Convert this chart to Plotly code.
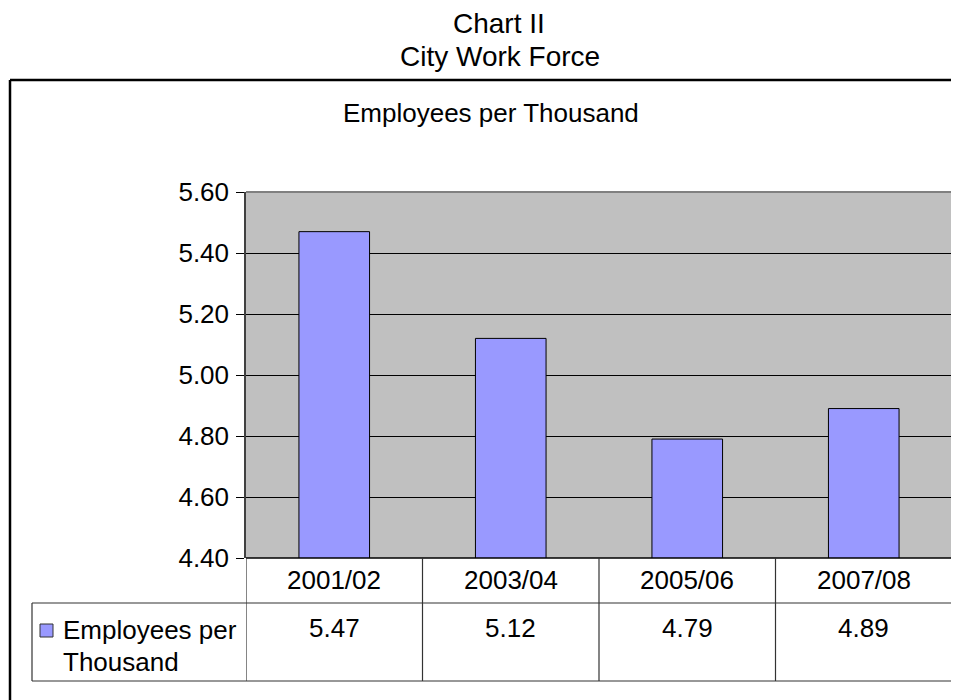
import plotly.graph_objects as go

categories = ["2001/02", "2003/04", "2005/06", "2007/08"]
values = [5.47, 5.12, 4.79, 4.89]
series_name = "Employees per Thousand"
y_ticks = [4.40, 4.60, 4.80, 5.00, 5.20, 5.40, 5.60]

OFF = 8  # page body margin
W, H = 959 - OFF, 700 - OFF
PL, PR, PT, PB = 246, 952, 192, 558  # plot area in page pixels
L, T = PL - OFF, PT - OFF
R, B = W - (PR - OFF), H - (PB - OFF)
FONT = "Liberation Sans, Arial, sans-serif"
BAR = "#9999FF"

def px_x(px):
    return (px - PL) / (PR - PL)

def px_y(py):
    return (PB - py) / (PB - PT)

fig = go.Figure()
fig.add_trace(go.Bar(
    x=categories, y=values, name=series_name,
    marker=dict(color=BAR, line=dict(color="black", width=1)),
    showlegend=False, hoverinfo="x+y",
))

shapes = []
shapes.append(dict(type="line", xref="paper", yref="paper", x0=0, x1=1, y0=1, y1=1,
                   line=dict(color="#808080", width=2)))
shapes.append(dict(type="line", xref="paper", yref="paper", x0=1, x1=1, y0=0, y1=1,
                   line=dict(color="#808080", width=2)))
shapes.append(dict(type="line", xref="paper", yref="paper", x0=px_x(10), x1=px_x(10),
                   y0=px_y(80), y1=px_y(720), line=dict(color="black", width=2.5)))
shapes.append(dict(type="line", xref="paper", yref="paper", x0=px_x(10), x1=px_x(980),
                   y0=px_y(80), y1=px_y(80), line=dict(color="black", width=2.5)))

row1_bot = px_y(603)
row2_bot = px_y(681)
leg_left = px_x(32)
tcol = "#333333"
shapes.append(dict(type="line", xref="paper", yref="paper", x0=0, x1=1, y0=0, y1=0,
                   line=dict(color="black", width=1.5)))
shapes.append(dict(type="line", xref="paper", yref="paper", x0=leg_left, x1=1,
                   y0=row1_bot, y1=row1_bot, line=dict(color=tcol, width=1.2)))
shapes.append(dict(type="line", xref="paper", yref="paper", x0=leg_left, x1=1,
                   y0=row2_bot, y1=row2_bot, line=dict(color=tcol, width=1.2)))
shapes.append(dict(type="line", xref="paper", yref="paper", x0=leg_left, x1=leg_left,
                   y0=row1_bot, y1=row2_bot, line=dict(color=tcol, width=1.2)))
for i in range(len(categories) + 1):
    shapes.append(dict(type="line", xref="x", yref="paper", x0=i - 0.5, x1=i - 0.5,
                       y0=0, y1=row2_bot, line=dict(color=tcol, width=1.2)))
shapes.append(dict(type="rect", xref="paper", yref="paper",
                   x0=px_x(40), x1=px_x(53), y0=px_y(637), y1=px_y(624),
                   fillcolor=BAR, line=dict(color="#333333", width=1)))

annotations = []
def txt(text, x, y, xref="paper", size=26, xanchor="center"):
    annotations.append(dict(text=text, x=x, y=y, xref=xref, yref="paper",
                            showarrow=False, xanchor=xanchor, yanchor="middle",
                            font=dict(family=FONT, size=size, color="black")))

txt("Chart II", px_x(499), px_y(23), size=28)
txt("City Work Force", px_x(500), px_y(57), size=28)
txt(series_name, px_x(491), px_y(113))
for i, c in enumerate(categories):
    txt(c, i, px_y(580), xref="x")
    txt(f"{values[i]:.2f}", i, px_y(628), xref="x")
words = series_name.split(" ")
txt(" ".join(words[:2]), px_x(61), px_y(630), xanchor="left")
txt(" ".join(words[2:]), px_x(61), px_y(662), xanchor="left")

fig.update_layout(
    width=W, height=H,
    margin=dict(l=L, r=R, t=T, b=B, pad=0),
    paper_bgcolor="white", plot_bgcolor="#C0C0C0",
    bargap=0.6,
    font=dict(family=FONT, size=26, color="black"),
    shapes=shapes, annotations=annotations,
    xaxis=dict(type="category", range=[-0.5, 3.5], showticklabels=False,
               showgrid=False, zeroline=False, showline=False, ticks=""),
    yaxis=dict(range=[4.4, 5.6], tickvals=y_ticks, tickformat=".2f",
               ticks="outside", ticklen=8, tickcolor="black", tickwidth=1,
               showgrid=True, gridcolor="black", gridwidth=1,
               showline=True, linecolor="#404040", linewidth=1.5,
               zeroline=False, ticklabelstandoff=2,
               tickfont=dict(family=FONT, size=26, color="black")),
)

fig.write_html("out.html")
